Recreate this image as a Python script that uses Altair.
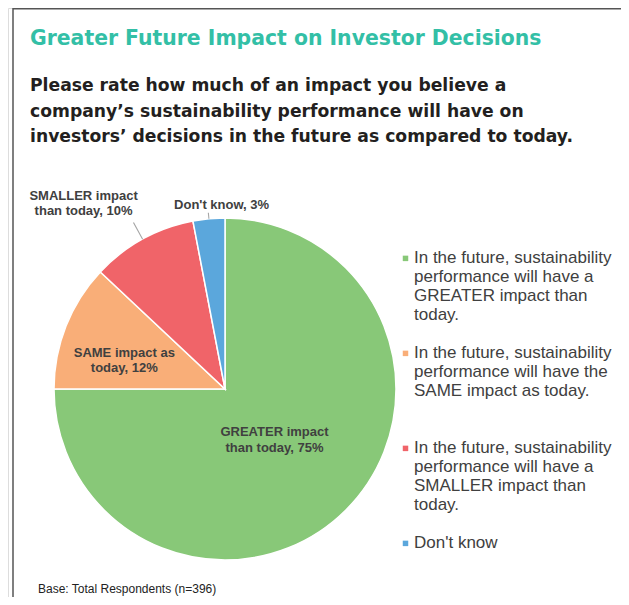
import altair as alt
import pandas as pd

# ---- data ----
categories = ["GREATER", "SAME", "SMALLER", "Don't know"]
values = [75, 12, 10, 3]
slice_labels = [
    "GREATER impact\nthan today, 75%",
    "SAME impact as\ntoday, 12%",
    "SMALLER impact\nthan today, 10%",
    "Don't know, 3%",
]
legend_labels = [
    "In the future, sustainability|performance will have a|GREATER impact than|today.",
    "In the future, sustainability|performance will have the|SAME impact as today.|",
    "In the future, sustainability|performance will have a|SMALLER impact than|today.",
    "Don't know",
]
colors = ["#88c878", "#f9ae78", "#f06469", "#5ba7dc"]

title_text = "Greater Future Impact on Investor Decisions"
subtitle_text = ("Please rate how much of an impact you believe a\n"
                 "company\u2019s sustainability performance will have on\n"
                 "investors\u2019 decisions in the future as compared to today.")
base_note = "Base: Total Respondents (n=396)"

df = pd.DataFrame({
    "category": categories,
    "value": values,
    "order": list(range(len(categories))),
    "label": slice_labels,
    "legend": legend_labels,
})

W, H = 613, 589
CX, CY = 217, 381
R = 171

theta_scale = alt.Scale(domain=[0, sum(values)])

base = (alt.Chart(df)
        .transform_window(cum="sum(value)", sort=[alt.SortField("order")])
        .transform_calculate(start="datum.cum - datum.value",
                             mid="datum.cum - datum.value / 2"))

# square symbol raised so that it sits beside the first line of each label
raised_square = "M-1,-2.5H1V-0.5H-1Z"

pie = base.mark_arc(radius=R, stroke="white", strokeWidth=1.5).encode(
    theta=alt.Theta("start:Q", scale=theta_scale),
    theta2="cum:Q",
    color=alt.Color(
        "legend:N",
        scale=alt.Scale(domain=legend_labels, range=colors),
        legend=alt.Legend(
            title=None, orient="none", legendX=389, legendY=246,
            symbolType=raised_square, symbolSize=30, symbolStrokeWidth=0,
            labelExpr="split(datum.label, '|')",
            labelFont="Liberation Sans", labelFontSize=17, labelColor="#404040",
            labelLimit=400, labelOffset=0, labelBaseline="alphabetic",
            rowPadding=20, padding=0,
        ),
    ),
    x=alt.value(CX), y=alt.value(CY),
)


def slice_text(cat, radius, dx=0, dy=0):
    return (base.transform_filter(alt.datum.category == cat)
            .mark_text(radius=radius, dx=dx, dy=dy, lineBreak="\n",
                       font="Liberation Sans", fontSize=13, fontWeight="bold",
                       color="#404040", lineHeight=15.5)
            .encode(theta=alt.Theta("mid:Q", scale=theta_scale),
                    text="label:N", x=alt.value(CX), y=alt.value(CY)))


def leader(cat, r_out):
    return (base.transform_filter(alt.datum.category == cat)
            .transform_calculate(a="datum.mid - 0.05", b="datum.mid + 0.05")
            .mark_arc(radius=r_out, radius2=R, color="#a6a6a6")
            .encode(theta=alt.Theta("a:Q", scale=theta_scale), theta2="b:Q",
                    x=alt.value(CX), y=alt.value(CY)))


labels = [
    slice_text("GREATER", 70, dy=-6),
    slice_text("SAME", 104, dx=-4, dy=2),
    slice_text("SMALLER", 225, dx=-33, dy=4),
    slice_text("Don't know", 185, dx=14, dy=0),
]
leaders = [leader("SMALLER", 190), leader("Don't know", 177)]

one = pd.DataFrame({"t": [0]})
title = alt.Chart(one).mark_text(
    text=title_text, align="left", baseline="alphabetic", font="DejaVu Sans",
    fontWeight="bold", fontSize=20.4, color="#33bfa6",
).encode(x=alt.value(22), y=alt.value(37))
subtitle = alt.Chart(one).mark_text(
    text=subtitle_text, lineBreak="\n", lineHeight=25.5, align="left",
    baseline="alphabetic", font="DejaVu Sans", fontWeight="bold", fontSize=17.2,
    color="#231f20",
).encode(x=alt.value(22), y=alt.value(83))
note = alt.Chart(one).mark_text(
    text=base_note, align="left", baseline="alphabetic",
    font="Liberation Sans", fontSize=12, color="#222222",
).encode(x=alt.value(30), y=alt.value(585))
border_left = alt.Chart(one).mark_rule(color="#555555", strokeWidth=1.5).encode(
    x=alt.value(5), y=alt.value(0), y2=alt.value(H))
border_top = alt.Chart(one).mark_rule(color="#555555", strokeWidth=1.5).encode(
    x=alt.value(5), x2=alt.value(W), y=alt.value(0.75))

chart = alt.layer(
    pie, *leaders, *labels, title, subtitle, note, border_left, border_top
).properties(
    width=W, height=H, padding=0, autosize="none",
).configure_view(stroke=None).configure(background="white")

chart.save("out.html", embed_options={"renderer": "svg", "actions": False})
